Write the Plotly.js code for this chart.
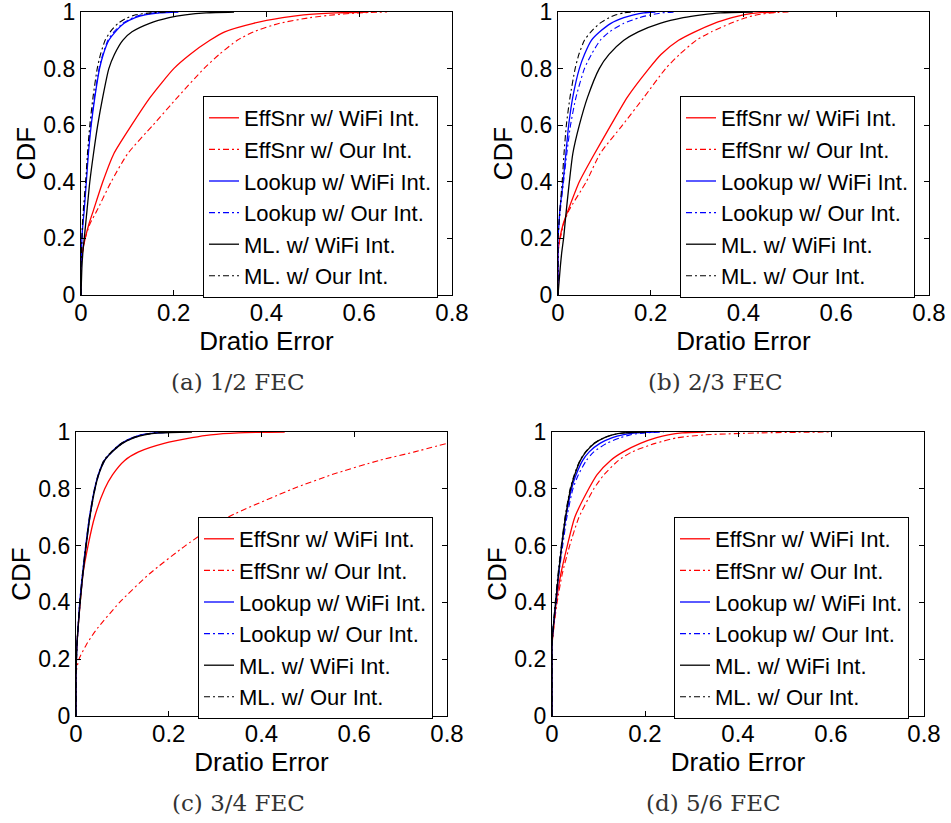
<!DOCTYPE html>
<html>
<head>
<meta charset="utf-8">
<script src="https://cdn.plot.ly/plotly-3.0.1.min.js"></script>
<style>html,body{margin:0;padding:0;background:#fff;}#chart{width:951px;height:823px;}</style>
</head>
<body>
<div id="chart"></div>
<script>
// ---------------- DATA ----------------
// CDF levels at which the Dratio error of every curve was read off the picture
const cdfLevels = [0, 0.1, 0.15, 0.2, 0.25, 0.3, 0.4, 0.5, 0.6, 0.7, 0.8, 0.85, 0.9, 0.93, 0.96, 0.98, 0.99, 0.997, 1];

const seriesNames = ['EffSnr w/ WiFi Int.', 'EffSnr w/ Our Int.', 'Lookup w/ WiFi Int.', 'Lookup w/ Our Int.', 'ML. w/ WiFi Int.', 'ML. w/ Our Int.'];
const panelCaptions = ['(a) 1/2 FEC', '(b) 2/3 FEC', '(c) 3/4 FEC', '(d) 5/6 FEC'];
const xTickVals = [0, 0.2, 0.4, 0.6, 0.8];
const xTickText = ['0', '0.2', '0.4', '0.6', '0.8'];
const yTickVals = [0, 0.2, 0.4, 0.6, 0.8, 1];
const yTickText = ['0', '0.2', '0.4', '0.6', '0.8', '1'];
const xTitle = 'Dratio Error';
const yTitle = 'CDF';

// (a) 1/2 FEC — Dratio error at each CDF level
const a_effSnrWifi = [0, 0, 0.003, 0.009, 0.017, 0.027, 0.047, 0.071, 0.109, 0.150, 0.200, 0.235, 0.278, 0.310, 0.372, 0.435, 0.480, 0.550, 0.620];
const a_effSnrOur  = [0, 0, 0.003, 0.009, 0.019, 0.035, 0.065, 0.101, 0.155, 0.209, 0.265, 0.298, 0.337, 0.372, 0.428, 0.494, 0.545, 0.600, 0.660];
const a_lookupWifi = [0, 0, 0.001, 0.002, 0.004, 0.007, 0.0115, 0.016, 0.022, 0.030, 0.040, 0.048, 0.060, 0.074, 0.093, 0.117, 0.138, 0.170, 0.210];
const a_lookupOur  = [0, 0, 0.001, 0.002, 0.004, 0.006, 0.011, 0.015, 0.021, 0.029, 0.039, 0.047, 0.058, 0.071, 0.090, 0.112, 0.130, 0.160, 0.200];
const a_mlWifi     = [0, 0.002, 0.004, 0.007, 0.010, 0.013, 0.019, 0.027, 0.036, 0.047, 0.060, 0.072, 0.090, 0.110, 0.148, 0.190, 0.225, 0.270, 0.330];
const a_mlOur      = [0, 0, 0.001, 0.002, 0.003, 0.005, 0.010, 0.014, 0.019, 0.026, 0.035, 0.042, 0.052, 0.063, 0.080, 0.100, 0.118, 0.150, 0.190];

// (b) 2/3 FEC
const b_effSnrWifi = [0, 0, 0, 0.004, 0.011, 0.022, 0.046, 0.079, 0.114, 0.150, 0.196, 0.222, 0.260, 0.295, 0.337, 0.375, 0.400, 0.430, 0.470];
const b_effSnrOur  = [0, 0, 0, 0.005, 0.012, 0.024, 0.061, 0.091, 0.139, 0.186, 0.232, 0.262, 0.298, 0.331, 0.372, 0.405, 0.430, 0.460, 0.500];
const b_lookupWifi = [0, 0, 0, 0, 0.002, 0.004, 0.011, 0.017, 0.023, 0.032, 0.046, 0.057, 0.072, 0.090, 0.114, 0.142, 0.163, 0.185, 0.210];
const b_lookupOur  = [0, 0, 0, 0, 0.002, 0.005, 0.012, 0.019, 0.027, 0.039, 0.057, 0.072, 0.091, 0.111, 0.142, 0.175, 0.200, 0.225, 0.255];
const b_mlWifi     = [0, 0.005, 0.008, 0.012, 0.015, 0.018, 0.0245, 0.032, 0.046, 0.064, 0.089, 0.110, 0.142, 0.173, 0.220, 0.270, 0.310, 0.350, 0.420];
const b_mlOur      = [0, 0, 0, 0, 0.002, 0.004, 0.009, 0.013, 0.018, 0.026, 0.037, 0.045, 0.057, 0.071, 0.090, 0.110, 0.125, 0.142, 0.165];

// (c) 3/4 FEC
const c_effSnrWifi = [0, 0, 0, 0, 0.002, 0.004, 0.009, 0.015, 0.026, 0.040, 0.062, 0.079, 0.105, 0.135, 0.190, 0.250, 0.290, 0.350, 0.450];
const c_effSnrOur  = [0, 0, 0, 0.0065, 0.022, 0.042, 0.094, 0.158, 0.236, 0.328, 0.468, 0.552, 0.654, 0.730, 0.800];
const c_lookupWifi = [0, 0, 0, 0.001, 0.002, 0.004, 0.008, 0.014, 0.021, 0.029, 0.040, 0.048, 0.061, 0.077, 0.098, 0.122, 0.140, 0.170, 0.220];
const c_lookupOur  = [0, 0, 0, 0.001, 0.002, 0.004, 0.009, 0.015, 0.022, 0.030, 0.041, 0.049, 0.062, 0.078, 0.100, 0.125, 0.145, 0.175, 0.230];
const c_mlWifi     = [0, 0, 0, 0.001, 0.002, 0.004, 0.009, 0.015, 0.022, 0.030, 0.041, 0.049, 0.062, 0.078, 0.100, 0.126, 0.148, 0.180, 0.250];
const c_mlOur      = [0, 0, 0, 0.001, 0.002, 0.004, 0.008, 0.014, 0.021, 0.029, 0.040, 0.048, 0.060, 0.076, 0.097, 0.122, 0.142, 0.170, 0.220];

// (d) 5/6 FEC
const d_effSnrWifi = [0, 0, 0, 0, 0, 0.003, 0.009, 0.019, 0.033, 0.049, 0.079, 0.097, 0.126, 0.153, 0.190, 0.225, 0.250, 0.280, 0.330];
const d_effSnrOur  = [0, 0, 0, 0, 0, 0.003, 0.011, 0.022, 0.038, 0.058, 0.090, 0.112, 0.143, 0.172, 0.222, 0.270, 0.330, 0.450, 0.600];
const d_lookupWifi = [0, 0, 0, 0, 0, 0.002, 0.008, 0.014, 0.021, 0.030, 0.042, 0.052, 0.066, 0.080, 0.103, 0.130, 0.152, 0.180, 0.220];
const d_lookupOur  = [0, 0, 0, 0, 0, 0.002, 0.009, 0.015, 0.023, 0.032, 0.045, 0.057, 0.074, 0.090, 0.117, 0.147, 0.168, 0.200, 0.240];
const d_mlWifi     = [0, 0, 0, 0, 0, 0.002, 0.008, 0.014, 0.021, 0.029, 0.040, 0.049, 0.061, 0.073, 0.091, 0.113, 0.130, 0.155, 0.200];
const d_mlOur      = [0, 0, 0, 0, 0, 0.002, 0.007, 0.013, 0.020, 0.028, 0.039, 0.048, 0.060, 0.072, 0.090, 0.112, 0.130, 0.155, 0.200];

const panelSeries = [
  [a_effSnrWifi, a_effSnrOur, a_lookupWifi, a_lookupOur, a_mlWifi, a_mlOur],
  [b_effSnrWifi, b_effSnrOur, b_lookupWifi, b_lookupOur, b_mlWifi, b_mlOur],
  [c_effSnrWifi, c_effSnrOur, c_lookupWifi, c_lookupOur, c_mlWifi, c_mlOur],
  [d_effSnrWifi, d_effSnrOur, d_lookupWifi, d_lookupOur, d_mlWifi, d_mlOur]
];

// ---------------- STYLE / LAYOUT ----------------
const W = 951, H = 823;
const seriesColors = ['#ff0000', '#ff0000', '#0000ff', '#0000ff', '#000000', '#000000'];
const seriesDash = ['solid', '6px,3px,2px,3px', 'solid', '6px,3px,2px,3px', 'solid', '6px,3px,2px,3px'];
const seriesWidth = [1.3, 1.1, 1.3, 1.1, 1.3, 1.1];

// plot-area boxes in pixels: [left, right, top, bottom]
const boxes = [[81, 452, 12, 295], [558, 929, 12, 295], [76, 447, 432, 716], [552, 924, 432, 716]];
const legendPos = [[203, 96], [680, 96], [198, 517], [674, 517]];
const captionPos = [[238, 382], [715, 382], [238, 803], [713, 803]];

const sansFont = 'Liberation Sans, Arial, Helvetica, sans-serif';

const traces = [];
panelSeries.forEach((series, p) => {
  series.forEach((xs, s) => {
    traces.push({
      type: 'scatter', mode: 'lines',
      x: xs, y: cdfLevels.slice(0, xs.length),
      name: seriesNames[s],
      xaxis: p === 0 ? 'x' : 'x' + (p + 1),
      yaxis: p === 0 ? 'y' : 'y' + (p + 1),
      legend: p === 0 ? 'legend' : 'legend' + (p + 1),
      line: { color: seriesColors[s], dash: seriesDash[s], width: seriesWidth[s], shape: 'spline', smoothing: 0.6 },
      hoverinfo: 'skip'
    });
  });
});

const layout = {
  width: W, height: H,
  margin: { l: 0, r: 0, t: 0, b: 0 },
  paper_bgcolor: '#fff', plot_bgcolor: '#fff',
  font: { family: sansFont, color: '#000' },
  annotations: []
};

boxes.forEach((b, p) => {
  const sfx = p === 0 ? '' : String(p + 1);
  layout['xaxis' + sfx] = {
    domain: [b[0] / W, b[1] / W],
    anchor: 'y' + sfx,
    range: [0, 0.8], fixedrange: true,
    tickmode: 'array', tickvals: xTickVals, ticktext: xTickText,
    ticks: 'inside', ticklen: 5, tickwidth: 1, tickcolor: '#000',
    showline: true, linecolor: '#000', linewidth: 1.2, mirror: 'ticks',
    showgrid: false, zeroline: false,
    ticklabeloverflow: 'allow', ticklabelstandoff: -4,
    tickfont: { family: sansFont, size: 24, color: '#000' },
    title: { text: xTitle, font: { family: sansFont, size: 26, color: '#000' }, standoff: 0 }
  };
  layout['yaxis' + sfx] = {
    domain: [1 - b[3] / H, 1 - b[2] / H],
    anchor: 'x' + sfx,
    range: [0, 1], fixedrange: true,
    tickmode: 'array', tickvals: yTickVals, ticktext: yTickText,
    ticks: 'inside', ticklen: 5, tickwidth: 1, tickcolor: '#000',
    showline: true, linecolor: '#000', linewidth: 1.2, mirror: 'ticks',
    showgrid: false, zeroline: false,
    ticklabeloverflow: 'allow',
    tickfont: { family: sansFont, size: 23, color: '#000' },
    title: { text: yTitle, font: { family: sansFont, size: 26, color: '#000' }, standoff: 0 }
  };
  layout[p === 0 ? 'legend' : 'legend' + (p + 1)] = {
    x: legendPos[p][0] / W, y: 1 - legendPos[p][1] / H,
    xanchor: 'left', yanchor: 'top',
    bgcolor: '#fff', bordercolor: '#000', borderwidth: 1,
    font: { family: sansFont, size: 22, color: '#000' },
    tracegroupgap: 0, itemwidth: 30
  };
  layout.annotations.push({
    xref: 'paper', yref: 'paper',
    x: captionPos[p][0] / W, y: 1 - captionPos[p][1] / H,
    xanchor: 'center', yanchor: 'middle',
    text: panelCaptions[p], showarrow: false,
    font: { family: 'DejaVu Serif, Liberation Serif, serif', size: 23, color: '#333' }
  });
});

Plotly.newPlot('chart', traces, layout, { staticPlot: true, displayModeBar: false });
</script>
</body>
</html>
